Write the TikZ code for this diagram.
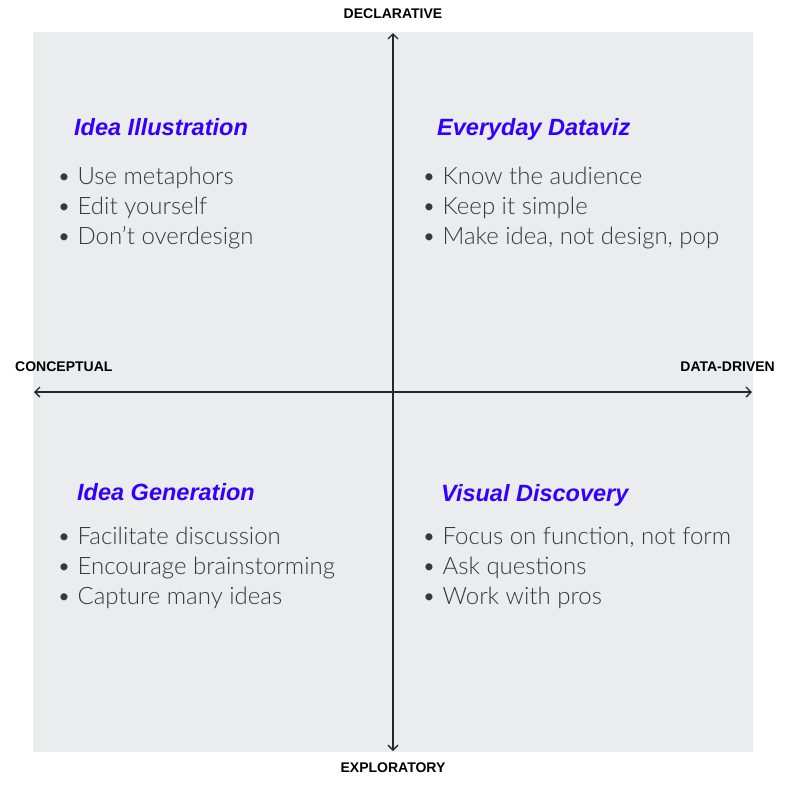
\documentclass[tikz,border=0pt]{standalone}
\usepackage{fontspec}
\usetikzlibrary{arrows.meta}
\setmainfont{Liberation Sans}
\newfontfamily\bodyfont{Lato Light}
\definecolor{panel}{HTML}{EBECEE}
\definecolor{titleblue}{HTML}{3300FF}
\definecolor{bodygray}{HTML}{383838}
\begin{document}
\begin{tikzpicture}[x=1pt,y=-1pt,
  axislabel/.style={font=\fontsize{14}{16}\selectfont\bfseries, text=black, inner sep=0pt},
  quadtitle/.style={font=\fontsize{23.5}{26}\selectfont\bfseries\itshape, text=titleblue, anchor=base west, inner sep=0pt},
  bulletline/.style={font=\bodyfont\fontsize{24}{30}\selectfont, text=bodygray, anchor=base west, inner sep=0pt},
  axis/.style={line width=1.4pt, draw=black!85, {Straight Barb[length=5pt,width=10pt]}-{Straight Barb[length=5pt,width=10pt]}}]
  \useasboundingbox (0,0) rectangle (812,788);
  \fill[white] (0,0) rectangle (812,788);
  % panel
  \fill[panel] (33,32) rectangle (753,752);
  % axes
  \coordinate (top) at (393,33);
  \coordinate (bottom) at (393,751);
  \coordinate (left) at (34,392);
  \coordinate (right) at (752,392);
  \draw[axis] (bottom) -- (top);
  \draw[axis] (left) -- (right);
  % axis labels
  \node[axislabel] (decl) at (393,14) {DECLARATIVE};
  \node[axislabel] (expl) at (393,768) {EXPLORATORY};
  \node[axislabel, anchor=west] (conc) at (15,367) {CONCEPTUAL};
  \node[axislabel, anchor=east] (data) at (775,367) {DATA-DRIVEN};
  % quadrant titles
  \node[quadtitle] (t1) at (74,135) {Idea Illustration};
  \node[quadtitle] (t2) at (437,135) {Everyday Dataviz};
  \node[quadtitle] (t3) at (77,500) {Idea Generation};
  \node[quadtitle] (t4) at (441,501) {Visual Discovery};
  % bullet lists
  \node[bulletline] (b11) at (57,184) {\textbullet\ Use metaphors};
  \node[bulletline] (b12) at (57,214) {\textbullet\ Edit yourself};
  \node[bulletline] (b13) at (57,244) {\textbullet\ Don’t overdesign};
  \node[bulletline] (b21) at (422,184) {\textbullet\ Know the audience};
  \node[bulletline] (b22) at (422,214) {\textbullet\ Keep it simple};
  \node[bulletline] (b23) at (422,244) {\textbullet\ Make idea, not design, pop};
  \node[bulletline] (b31) at (57,544) {\textbullet\ Facilitate discussion};
  \node[bulletline] (b32) at (57,574) {\textbullet\ Encourage brainstorming};
  \node[bulletline] (b33) at (57,604) {\textbullet\ Capture many ideas};
  \node[bulletline] (b41) at (422,544) {\textbullet\ Focus on function, not form};
  \node[bulletline] (b42) at (422,574) {\textbullet\ Ask questions};
  \node[bulletline] (b43) at (422,604) {\textbullet\ Work with pros};
\end{tikzpicture}
\end{document}
